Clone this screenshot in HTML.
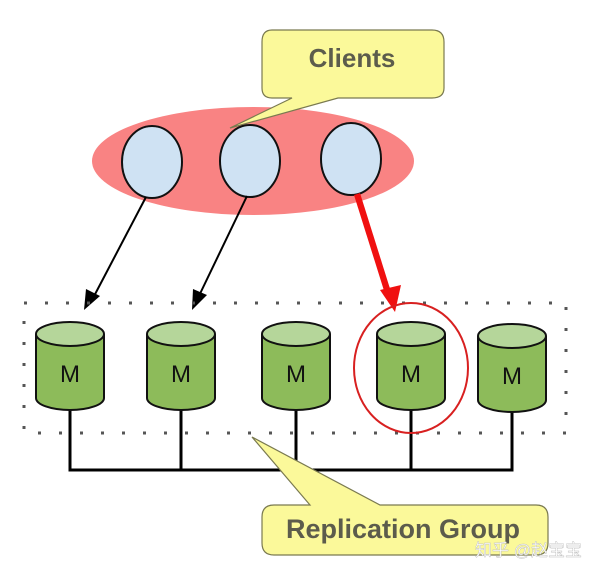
<!DOCTYPE html>
<html><head><meta charset="utf-8"><style>
html,body{margin:0;padding:0;background:#fff;width:600px;height:575px;overflow:hidden}
svg{display:block}
</style></head><body>
<svg width="600" height="575" viewBox="0 0 600 575" xmlns="http://www.w3.org/2000/svg">
<!-- red ellipse -->
<ellipse cx="253" cy="161" rx="161" ry="54" fill="#f98383"/>
<!-- clients callout -->
<path d="M272,30 H432 Q444,30 444,42 V88 Q444,98 432,98 H338 L230,128 L292,98 H272 Q262,98 262,88 V42 Q262,30 272,30 Z" fill="#fbf99a" stroke="#7a7a50" stroke-width="1.2"/>
<text x="352" y="67" text-anchor="middle" font-family="Liberation Sans, sans-serif" font-weight="bold" font-size="26" fill="#5c5c4c">Clients</text>
<!-- client circles -->
<ellipse cx="152" cy="162" rx="30" ry="36" fill="#cfe2f3" stroke="#111" stroke-width="2"/>
<ellipse cx="250" cy="161" rx="30" ry="36" fill="#cfe2f3" stroke="#111" stroke-width="2"/>
<ellipse cx="351" cy="159" rx="30" ry="36" fill="#cfe2f3" stroke="#111" stroke-width="2"/>
<!-- arrows -->
<line x1="146" y1="197" x2="92" y2="300" stroke="#000" stroke-width="2"/>
<path d="M84,310 L86,289 L100,296 Z" fill="#000"/>
<line x1="247" y1="196" x2="197" y2="300" stroke="#000" stroke-width="2"/>
<path d="M192,310 L193,289 L207,295 Z" fill="#000"/>
<path d="M354,195 L360,193 L392,295 L386,297 Z" fill="#f01010"/>
<path d="M395,312 L380,290 L401,285 Z" fill="#f01010"/>
<!-- dotted rect -->
<rect x="24" y="303" width="542" height="130" fill="none" stroke="#555" stroke-width="3" stroke-dasharray="3,18"/>
<!-- bus -->
<path d="M70,405 V470 H512 V405 M181,405 V470 M296,405 V470 M411,405 V470" fill="none" stroke="#000" stroke-width="3"/>
<!-- cylinders -->
<g stroke="#111" stroke-width="2">
<g transform="translate(70,0)"><path d="M-34,334 V398 A34,12 0 0 0 34,398 V334" fill="#8dbb5a"/><ellipse cx="0" cy="334" rx="34" ry="12" fill="#b5d69a"/></g>
<g transform="translate(181,0)"><path d="M-34,334 V398 A34,12 0 0 0 34,398 V334" fill="#8dbb5a"/><ellipse cx="0" cy="334" rx="34" ry="12" fill="#b5d69a"/></g>
<g transform="translate(296,0)"><path d="M-34,334 V398 A34,12 0 0 0 34,398 V334" fill="#8dbb5a"/><ellipse cx="0" cy="334" rx="34" ry="12" fill="#b5d69a"/></g>
<g transform="translate(411,0)"><path d="M-34,334 V398 A34,12 0 0 0 34,398 V334" fill="#8dbb5a"/><ellipse cx="0" cy="334" rx="34" ry="12" fill="#b5d69a"/></g>
<g transform="translate(512,0)"><path d="M-34,336 V400 A34,12 0 0 0 34,400 V336" fill="#8dbb5a"/><ellipse cx="0" cy="336" rx="34" ry="12" fill="#b5d69a"/></g>
</g>
<g font-family="Liberation Sans, sans-serif" font-size="24" fill="#111" text-anchor="middle">
<text x="70" y="382">M</text><text x="181" y="382">M</text><text x="296" y="382">M</text><text x="411" y="382">M</text><text x="512" y="384">M</text>
</g>
<!-- red circle -->
<ellipse cx="411" cy="368" rx="57" ry="65" fill="none" stroke="#d82020" stroke-width="2"/>
<!-- replication callout -->
<path d="M274,505 H310 L252,437 L380,505 H536 Q548,505 548,517 V543 Q548,555 536,555 H274 Q262,555 262,543 V517 Q262,505 274,505 Z" fill="#fbf99a" stroke="#7a7a50" stroke-width="1.2"/>
<text x="403" y="538" text-anchor="middle" font-family="Liberation Sans, sans-serif" font-weight="bold" font-size="27" fill="#5c5c4c">Replication Group</text>
<text x="475" y="556" font-family="Liberation Sans, 'Noto Sans CJK SC', sans-serif" font-size="17" fill="#ffffff" stroke="#bbb" stroke-width="0.4">知乎 @赵宝宝</text>
</svg>
</body></html>
